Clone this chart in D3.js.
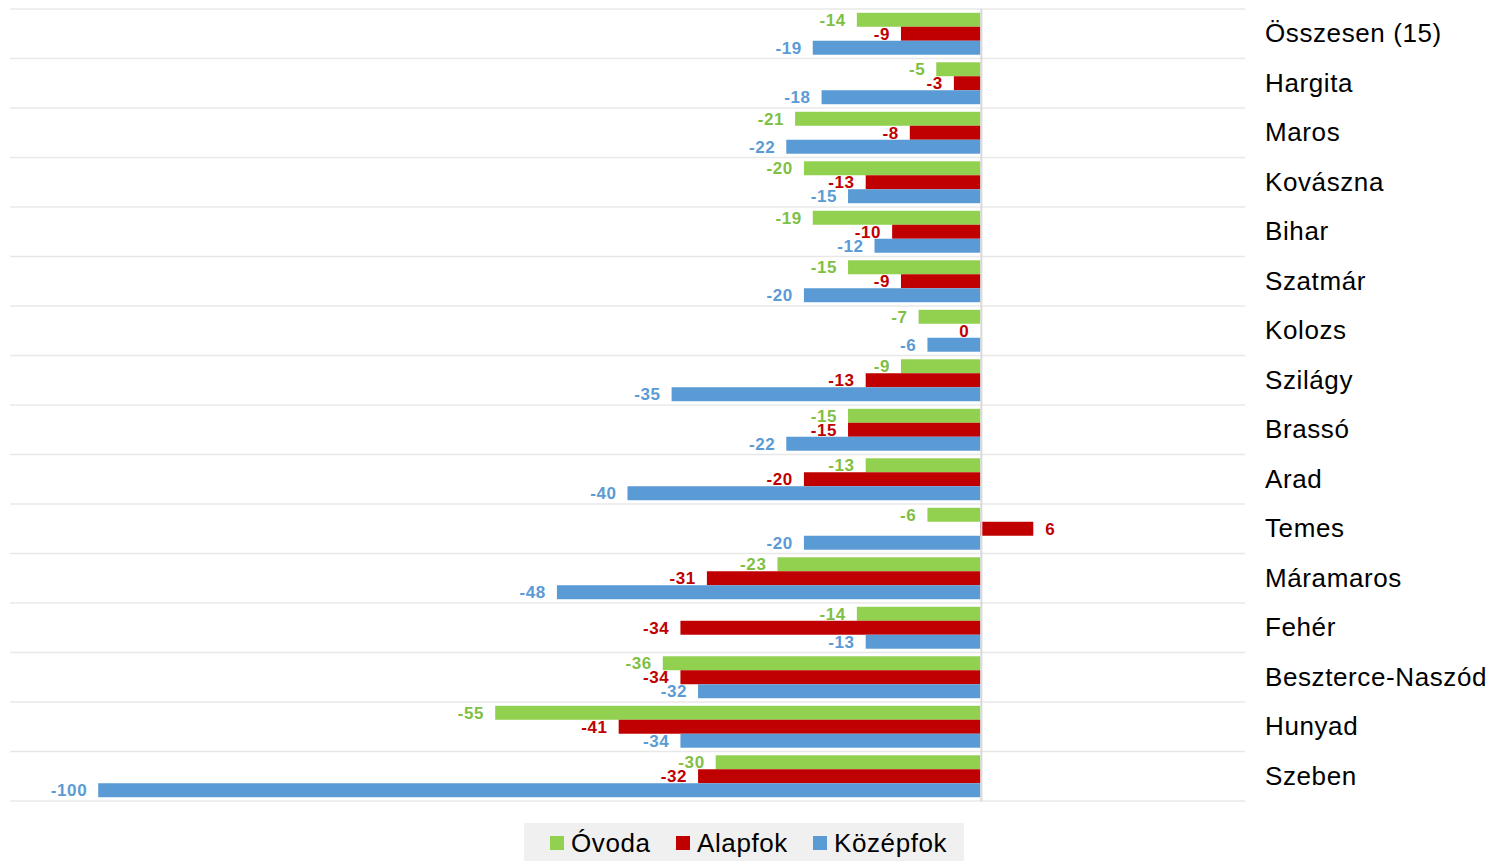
<!DOCTYPE html>
<html>
<head>
<meta charset="utf-8">
<script src="https://cdn.jsdelivr.net/npm/d3@7"></script>
<style>
  body { margin: 0; background: #fff; }
  text { font-family: "Liberation Sans", Arial, sans-serif; }
</style>
</head>
<body>
<svg id="chart" width="1489" height="861"></svg>
<script>
var categories = ["Összesen (15)", "Hargita", "Maros", "Kovászna", "Bihar", "Szatmár", "Kolozs",
  "Szilágy", "Brassó", "Arad", "Temes", "Máramaros", "Fehér", "Beszterce-Naszód", "Hunyad", "Szeben"];
var series = ["Óvoda", "Alapfok", "Középfok"];
var ovoda    = [-14, -5, -21, -20, -19, -15, -7, -9, -15, -13, -6, -23, -14, -36, -55, -30];
var alapfok  = [-9, -3, -8, -13, -10, -9, 0, -13, -15, -20, 6, -31, -34, -34, -41, -32];
var kozepfok = [-19, -18, -22, -15, -12, -20, -6, -35, -22, -40, -20, -48, -13, -32, -34, -100];
var barColors = ["#92d050", "#c00000", "#5b9bd5"];
var labelColors = ["#7fbf45", "#c00000", "#5b9bd5"];

var svg = d3.select("#chart"),
    width = +svg.attr("width"),
    height = +svg.attr("height");

var values = [ovoda, alapfok, kozepfok];
var rows = categories.map(function(c, i) {
  return { cat: c, vals: series.map(function(s, j) { return { s: s, j: j, v: values[j][i] }; }) };
});

var x = d3.scaleLinear().domain([-110, 30]).range([10, 1245]);
var y0 = d3.scaleBand().domain(categories).range([9, 801]).padding(0);
var y1 = d3.scaleBand().domain(series).range([0, y0.bandwidth()]).paddingInner(0).paddingOuter(0.27);

// gridlines between categories
var bounds = categories.map(function(c) { return y0(c); }).concat([y0.range()[1]]);
svg.append("g").selectAll("line")
  .data(bounds)
  .enter().append("line")
  .attr("x1", 10).attr("x2", 1245)
  .attr("y1", function(d) { return d; }).attr("y2", function(d) { return d; })
  .attr("stroke", "#e8e8e8").attr("stroke-width", 1.5);

var groups = svg.append("g").selectAll("g")
  .data(rows)
  .enter().append("g")
  .attr("transform", function(d) { return "translate(0," + y0(d.cat) + ")"; });

groups.selectAll("rect")
  .data(function(d) { return d.vals; })
  .enter().append("rect")
  .attr("x", function(d) { return x(Math.min(0, d.v)); })
  .attr("width", function(d) { return Math.abs(x(d.v) - x(0)); })
  .attr("y", function(d) { return y1(d.s); })
  .attr("height", y1.bandwidth())
  .attr("fill", function(d) { return barColors[d.j]; });

groups.selectAll("text")
  .data(function(d) { return d.vals; })
  .enter().append("text")
  .attr("x", function(d) { return d.v > 0 ? x(d.v) + 12 : x(d.v) - 11; })
  .attr("y", function(d) { return y1(d.s) + y1.bandwidth() / 2; })
  .attr("dy", "0.36em")
  .attr("text-anchor", function(d) { return d.v > 0 ? "start" : "end"; })
  .attr("font-size", 17)
  .attr("letter-spacing", 0.6)
  .attr("font-weight", "bold")
  .attr("fill", function(d) { return labelColors[d.j]; })
  .text(function(d) { return d.v; });

// zero line
svg.append("line")
  .attr("x1", x(0) + 1).attr("x2", x(0) + 1)
  .attr("y1", 9).attr("y2", 801)
  .attr("stroke", "#d9d9d9").attr("stroke-width", 2);

// category labels
svg.append("g").selectAll("text")
  .data(categories)
  .enter().append("text")
  .attr("x", 1265)
  .attr("y", function(d) { return y0(d) + y0.bandwidth() / 2; })
  .attr("dy", "0.33em")
  .attr("font-size", 26)
  .attr("letter-spacing", 0.6)
  .attr("fill", "#000")
  .text(function(d) { return d; });

// legend
var legend = svg.append("g");
legend.append("rect")
  .attr("x", 524).attr("y", 823).attr("width", 440).attr("height", 38)
  .attr("fill", "#f0f0f0");
var legendX = [550, 676, 813];
series.forEach(function(s, i) {
  legend.append("rect")
    .attr("x", legendX[i]).attr("y", 836).attr("width", 14).attr("height", 14)
    .attr("fill", barColors[i]);
  legend.append("text")
    .attr("x", legendX[i] + 21).attr("y", 843)
    .attr("dy", "0.35em")
    .attr("font-size", 26)
    .attr("letter-spacing", 0.6)
    .attr("fill", "#000")
    .text(s);
});
</script>
</body>
</html>
